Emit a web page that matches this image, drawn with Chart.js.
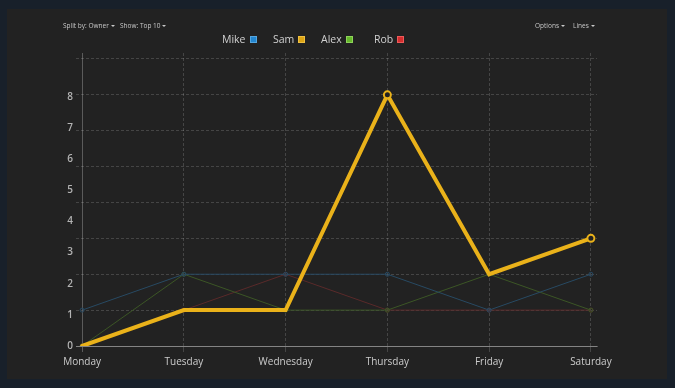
<!DOCTYPE html>
<html>
<head>
<meta charset="utf-8">
<script src="https://cdn.jsdelivr.net/npm/chart.js@4/dist/chart.umd.min.js"></script>
<style>
  html, body { margin: 0; padding: 0; background: #18202a; }
  body { width: 675px; height: 388px; position: relative; overflow: hidden; font-family: "Open Sans", "Noto Sans", sans-serif; }
  #panel { position: absolute; left: 7px; top: 9px; width: 660px; height: 370px; background: #222222; }
  #chartWrap { position: absolute; left: 0; top: 0; width: 660px; height: 370px; }
  .ctl { position: absolute; top: 12px; font-size: 6.5px; color: #c8c8c8; white-space: nowrap; }
  .caret { display: inline-block; width: 0; height: 0; border-left: 2px solid transparent; border-right: 2px solid transparent; border-top: 2px solid #c8c8c8; vertical-align: middle; margin-left: 2px; }
  .lg { position: absolute; top: 23px; font-size: 10.5px; color: #d0d0d0; white-space: nowrap; }
  .box { display: inline-block; width: 5px; height: 5px; vertical-align: 0px; margin-left: 4px; border: 1px solid; }
</style>
</head>
<body>
<div id="panel">
  <div id="chartWrap"><canvas id="c" width="660" height="370"></canvas></div>
  <div class="ctl" style="left:56px">Split by: Owner<span class="caret"></span></div>
  <div class="ctl" style="left:113px">Show: Top 10<span class="caret"></span></div>
  <div class="ctl" style="left:528px">Options<span class="caret"></span></div>
  <div class="ctl" style="left:566px">Lines<span class="caret"></span></div>
  <div class="lg" style="left:215px">Mike<span class="box" style="background:#2386d0;border-color:#55a6e0"></span></div>
  <div class="lg" style="left:266px">Sam<span class="box" style="background:#dca415;border-color:#f0c040"></span></div>
  <div class="lg" style="left:314px">Alex<span class="box" style="background:#66b82c;border-color:#8ed45a"></span></div>
  <div class="lg" style="left:367px">Rob<span class="box" style="background:#d42e2e;border-color:#ee5a5a"></span></div>
</div>
<script>
const days = ["Monday", "Tuesday", "Wednesday", "Thursday", "Friday", "Saturday"];
const yTickLabels = [0, 1, 2, 3, 4, 5, 6, 7, 8];
const mike = [1, 2, 2, 2, 1, 2];
const sam  = [0, 1, 1, 7, 2, 3];
const alex = [0, 2, 1, 1, 2, 1];
const rob  = [0, 1, 2, 1, 1, 1];

const pts = arr => arr.map((v, i) => ({ x: i, y: v }));
const gridCol = 'rgba(255,255,255,0.16)';
const axisCol = 'rgba(255,255,255,0.26)';

function thin(label, arr, color) {
  return {
    label, data: pts(arr), borderColor: color, backgroundColor: color,
    borderWidth: 1, pointRadius: 2, pointBorderWidth: 1, pointBackgroundColor: 'transparent',
    pointBorderColor: color, order: 1, yAxisID: 'y', xAxisID: 'x'
  };
}

new Chart(document.getElementById('c'), {
  type: 'line',
  data: {
    datasets: [
      thin('Mike', mike, '#284a63'),
      {
        label: 'Sam', data: pts(sam), borderColor: '#eab21a', backgroundColor: '#eab21a',
        borderWidth: 4, borderCapStyle: 'round',
        pointRadius: sam.map((v, i) => (i === 3 || i === 5) ? 3.5 : 0),
        pointBorderWidth: 2, pointBackgroundColor: '#222222', pointBorderColor: '#eab21a',
        order: 0, yAxisID: 'y', xAxisID: 'x'
      },
      thin('Alex', alex, '#3c5626'),
      thin('Rob', rob, '#5a2a2a')
    ]
  },
  options: {
    responsive: false,
    animation: false,
    events: [],
    layout: { padding: { left: 49, right: 70, top: 44, bottom: 7 } },
    plugins: { legend: { display: false }, tooltip: { enabled: false } },
    elements: { line: { tension: 0 } },
    scales: {
      x: {
        type: 'linear', min: -0.06, max: 5.06,
        afterBuildTicks: s => { s.ticks = days.map((d, i) => ({ value: i })); },
        border: { display: true, color: axisCol, width: 1, dash: ctx => ctx.index === 0 ? [] : [3, 2] },
        grid: { color: ctx => ctx.index === 0 ? axisCol : gridCol, lineWidth: 1, tickLength: 6, drawTicks: true },
        ticks: {
          color: '#cccccc', font: { family: 'Open Sans', size: 10 }, padding: 4, maxRotation: 0, autoSkip: false,
          callback: v => days[v] !== undefined ? days[v] : ''
        }
      },
      y: {
        type: 'linear', position: 'left', min: 0, max: 8 + 6 / 36,
        afterBuildTicks: s => { s.ticks = yTickLabels.map(v => ({ value: v })); },
        afterFit: s => { s.width = 0; },
        border: { display: false, dash: ctx => ctx.index === 0 ? [] : [3, 2] },
        grid: { color: ctx => ctx.index === 0 ? axisCol : gridCol, lineWidth: 1, drawTicks: false },
        ticks: { display: false }
      },
      yl: {
        type: 'linear', position: 'left', min: 0, max: 8 * 294 / 250,
        afterBuildTicks: s => { s.ticks = yTickLabels.map(v => ({ value: v })); },
        afterFit: s => { s.width = 20; },
        border: { display: false },
        grid: { display: false, drawTicks: false },
        ticks: {
          color: '#b4b4b4', font: { family: 'Open Sans', size: 10, weight: '600' }, padding: 3,
          callback: v => String(v)
        }
      }
    }
  }
});
</script>
</body>
</html>
